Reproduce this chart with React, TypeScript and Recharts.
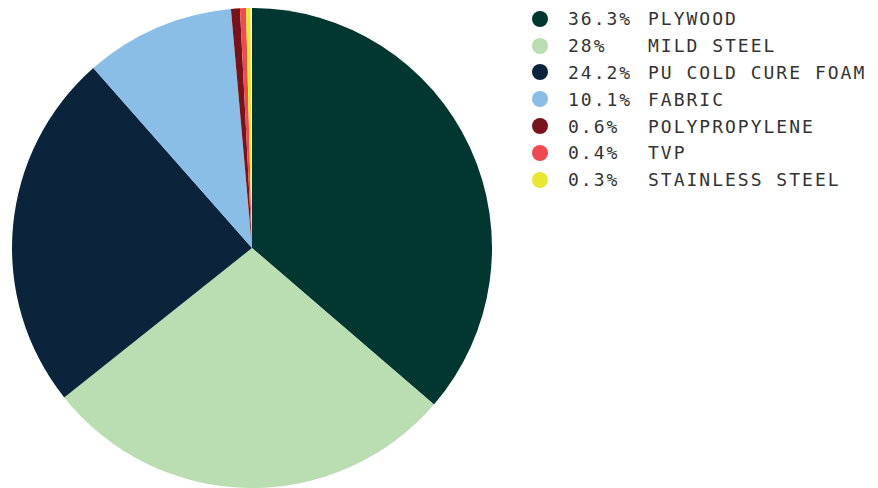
import { PieChart, Pie, Cell, Legend } from "recharts";

const materials = [
  "PLYWOOD",
  "MILD STEEL",
  "PU COLD CURE FOAM",
  "FABRIC",
  "POLYPROPYLENE",
  "TVP",
  "STAINLESS STEEL",
];
const shares = [36.3, 28, 24.2, 10.1, 0.6, 0.4, 0.3];
const colors = [
  "#023631",
  "#badeb1",
  "#0c243b",
  "#8bbee6",
  "#78131c",
  "#ee4a52",
  "#e9e534",
];

const data = materials.map((name, i) => ({ name, value: shares[i] }));
const total = shares.reduce((a, b) => a + b, 0);

const renderLegend = () => (
  <div
    style={{
      fontFamily: "'DejaVu Sans Mono', monospace",
      fontSize: 18,
      letterSpacing: 2,
      color: "#333",
    }}
  >
    {data.map((d, i) => (
      <div
        key={d.name}
        style={{ display: "flex", alignItems: "center", height: 26.8 }}
      >
        <span
          style={{
            width: 16,
            height: 16,
            borderRadius: "50%",
            background: colors[i],
            marginRight: 20,
            flexShrink: 0,
          }}
        />
        <span style={{ width: 80, whiteSpace: "pre" }}>{d.value}%</span>
        <span style={{ whiteSpace: "pre" }}>{d.name}</span>
      </div>
    ))}
  </div>
);

export default function App() {
  return (
    <PieChart
      width={870}
      height={480}
      margin={{ top: 0, right: 0, bottom: 0, left: 0 }}
    >
      <Pie
        data={data}
        dataKey="value"
        nameKey="name"
        cx={244}
        cy={240}
        outerRadius={240}
        startAngle={90}
        endAngle={90 - (360 * total) / 100}
        stroke="none"
        isAnimationActive={false}
      >
        {data.map((d, i) => (
          <Cell key={d.name} fill={colors[i]} />
        ))}
      </Pie>
      <Legend
        layout="vertical"
        align="right"
        verticalAlign="top"
        content={renderLegend}
        wrapperStyle={{ position: "absolute", left: 524, top: -2.5, width: 346 }}
      />
    </PieChart>
  );
}
